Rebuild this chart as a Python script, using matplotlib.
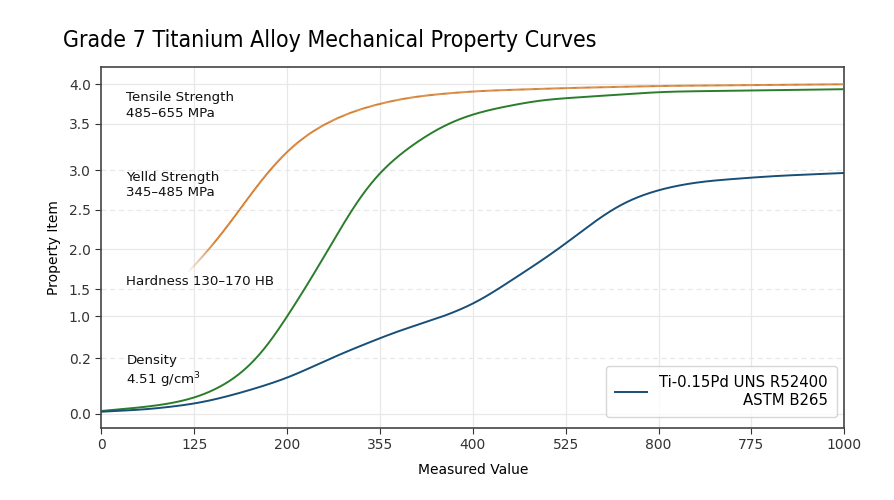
import matplotlib
matplotlib.use("Agg")
import matplotlib.pyplot as plt
import numpy as np
from matplotlib.collections import LineCollection

# x positions are evenly spaced slots; labels as printed on the chart
x_tick_labels = ["0", "125", "200", "355", "400", "525", "800", "775", "1000"]
# y tick slots (axis units) and their printed labels
y_tick_pos = [0.0, 0.676, 1.182, 1.510, 1.996, 2.474, 2.959, 3.518, 4.0]
y_tick_labels = ["0.0", "0.2", "1.0", "1.5", "2.0", "2.5", "3.0", "3.5", "4.0"]
y_dashed = [0.676, 1.510, 2.474, 2.959]

tensile_x = [0.92, 1.17, 1.49, 1.74, 2.03, 2.28, 2.64, 3.00, 3.36, 3.72, 4.08, 5.04, 6.04, 8.0]
tensile_y = [1.70, 1.99, 2.47, 2.88, 3.24, 3.45, 3.65, 3.77, 3.85, 3.89, 3.92, 3.955, 3.98, 4.00]

yield_x = [0.0, 0.52, 0.88, 1.17, 1.49, 1.78, 2.01, 2.21, 2.46, 2.75, 3.00, 3.36, 3.72, 4.08, 4.72, 6.05, 8.0]
yield_y = [0.033, 0.085, 0.146, 0.248, 0.449, 0.774, 1.20, 1.54, 2.02, 2.60, 2.96, 3.28, 3.53, 3.67, 3.81, 3.91, 3.94]

alloy_x = [0.0, 0.52, 1.06, 1.49, 2.01, 2.50, 2.86, 3.22, 3.64, 4.04, 4.47, 4.76, 5.01, 5.37, 5.66, 6.05, 6.45, 7.23, 8.0]
alloy_y = [0.024, 0.053, 0.126, 0.248, 0.43, 0.69, 0.855, 1.016, 1.16, 1.34, 1.66, 1.87, 2.07, 2.39, 2.595, 2.74, 2.82, 2.886, 2.923]

notes = [
    ("Tensile Strength\n485–655 MPa", 3.745),
    ("Yelld Strength\n345–485 MPa", 2.775),
    ("Hardness 130–170 HB", 1.60),
    ("Density\n4.51 g/cm$^3$", 0.51),
]


def _smooth(xs, ys, step=0.01, sigma=0.18):
    # linear interpolation of the read points, then a light gaussian blur
    xs = np.asarray(xs, dtype=float)
    ys = np.asarray(ys, dtype=float)
    xx = np.arange(xs[0], xs[-1] + step / 2, step)
    yy = np.interp(xx, xs, ys)
    r = int(3 * sigma / step)
    kern = np.exp(-0.5 * (np.arange(-r, r + 1) * step / sigma) ** 2)
    kern /= kern.sum()
    left = 2 * yy[0] - yy[1:r + 1][::-1]
    right = 2 * yy[-1] - yy[-r - 1:-1][::-1]
    padded = np.concatenate([left, yy, right])
    return xx, np.convolve(padded, kern, mode="valid")


fig = plt.figure(figsize=(8.95, 5.0), dpi=100)
ax = fig.add_axes([101.3 / 895, (500 - 427.7) / 500, (844.3 - 101.3) / 895, (427.7 - 67.3) / 500])

x_pos = np.arange(len(x_tick_labels))
ax.set_xlim(0, 8)
ax.set_ylim(-0.17, 4.206)

for xp in x_pos[1:-1]:
    ax.axvline(xp, color="#e8e8e8", linewidth=0.9, zorder=0)
for yp in y_tick_pos:
    ls = (0, (4, 3)) if yp in y_dashed else "-"
    ax.axhline(yp, color="#e8e8e8", linewidth=0.9, linestyle=ls, zorder=0)

orange = "#d2741e"
green = "#2b7d2b"
blue = "#174f78"

tx, ty = _smooth(tensile_x, tensile_y)
pts = np.column_stack([tx, ty]).reshape(-1, 1, 2)
segs = np.concatenate([pts[:-1], pts[1:]], axis=1)
fade = np.clip((tx[:-1] - tensile_x[0]) / 0.3, 0, 1)
seg_colors = [matplotlib.colors.to_rgba(orange, a) for a in fade]
ax.add_collection(LineCollection(segs, colors=seg_colors, linewidths=1.4, zorder=3))

gx, gy = _smooth(yield_x, yield_y)
ax.plot(gx, gy, color=green, linewidth=1.4, zorder=3)

bx, by = _smooth(alloy_x, alloy_y)
ax.plot(bx, by, color=blue, linewidth=1.4, zorder=3, label="Ti-0.15Pd UNS R52400\nASTM B265")

for text, yv in notes:
    ax.text(0.27, yv, text, fontsize=9.6, va="center", ha="left", color="#111111", linespacing=1.25)

ax.set_xticks(x_pos)
ax.set_xticklabels(x_tick_labels)
ax.set_yticks(y_tick_pos)
ax.set_yticklabels(y_tick_labels)
ax.tick_params(labelsize=10, colors="#333333", length=4)
for sp in ax.spines.values():
    sp.set_color("#444444")
    sp.set_linewidth(1.2)

ax.set_xlabel("Measured Value", fontsize=10, labelpad=8)
ax.set_ylabel("Property Item", fontsize=10, labelpad=6)

leg = ax.legend(loc="lower right", fontsize=10.7, frameon=True, borderpad=0.6,
                handlelength=2.2, bbox_to_anchor=(1.0, 0.01))
leg.get_frame().set_edgecolor("#cccccc")
for t in leg.get_texts():
    t.set_multialignment("right")

fig.text(63 / 895, 1 - 40 / 500, "Grade 7 Titanium Alloy Mechanical Property Curves",
         fontsize=16.6, ha="left", va="center", family="DejaVu Sans",
         fontstretch="condensed")

fig.savefig("out.png", dpi=100)
